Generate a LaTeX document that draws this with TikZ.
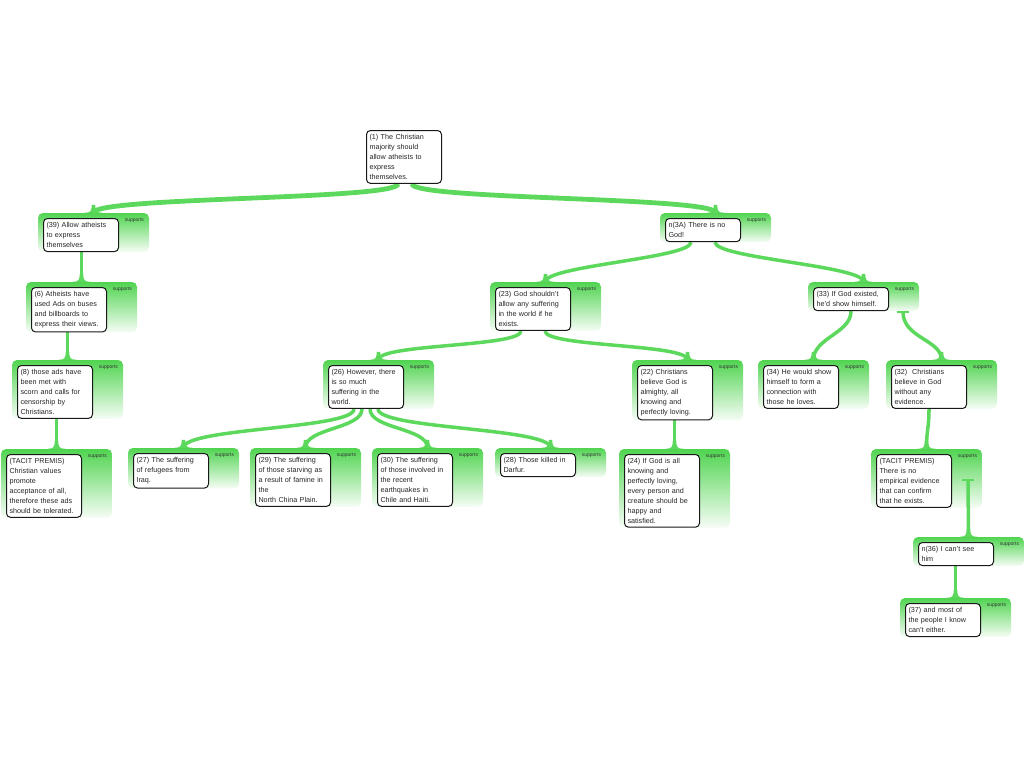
\documentclass[tikz,border=0pt]{standalone}
\usepackage{fontspec}
\setmainfont{Liberation Sans}
\usetikzlibrary{calc,fit,backgrounds}
\pgfdeclarelayer{links}
\pgfsetlayers{background,links,main}
\definecolor{pgreen}{RGB}{80,212,80}
\definecolor{lgreen}{RGB}{92,216,92}
\tikzset{
  argbox/.style={draw=black!90, line width=1pt, rounded corners=4pt, fill=white,
    text width=69pt, inner xsep=3pt, inner ysep=4pt, align=left, anchor=north west,
    font=\fontsize{7.2}{9.9}\selectfont, text=black!85},
  panel/.style={rounded corners=5pt, top color=pgreen, bottom color=pgreen!5, inner sep=0pt, draw=none},
  suplabel/.style={font=\fontsize{5}{6}\selectfont, anchor=north east, inner sep=0pt, text=black!80},
  link/.style={draw=lgreen, line width=3.5pt},
  biglink/.style={link, line width=4.8pt},
  tbar/.style={draw=lgreen, line width=2pt},
}
\newcommand{\claimbox}[4]{%
  \node[argbox] (#1) at (#2,#3) {#4};
  \begin{pgfonlayer}{background}
    \coordinate (#1-a) at ($(#1.north west)+(-5,-5)$);
    \coordinate (#1-b) at ($(#1.south east)+(30,0)$);
    \node[panel, fit=(#1-a)(#1-b)] (p#1) {};
    \node[suplabel] at ([xshift=-5pt,yshift=-5pt]p#1.north east) {supports};
  \end{pgfonlayer}%
}
\newcommand{\flare}[1]{%
  \fill[lgreen] ($(#1)+(-9,0)$) .. controls ($(#1)+(-2.5,0)$) and ($(#1)+(-2,-2)$) .. ($(#1)+(-1.7,-8)$)
    -- ($(#1)+(1.7,-8)$) .. controls ($(#1)+(2,-2)$) and ($(#1)+(2.5,0)$) .. ($(#1)+(9,0)$) -- cycle;}
\begin{document}
\begin{tikzpicture}[x=1pt,y=-1pt]
\useasboundingbox (0,0) rectangle (1024,768);

\node[argbox] (root) at (366,130) {(1) The Christian\\majority should\\allow atheists to\\express\\themselves.};

\claimbox{b39}{43}{218}{(39) Allow atheists\\to express\\themselves}
\claimbox{b3A}{665}{218}{n(3A) There is no\\God!}
\claimbox{b6}{31}{287}{(6) Atheists have\\used Ads on buses\\and billboards to\\express their views.}
\claimbox{b8}{17}{365}{(8) those ads have\\been met with\\scorn and calls for\\censorship by\\Christians.}
\claimbox{bTL}{6}{454}{(TACIT PREMIS)\\Christian values\\promote\\acceptance of all,\\therefore these ads\\should be tolerated.}
\claimbox{b23}{495}{287}{(23) God shouldn't\\allow any suffering\\in the world if he\\exists.}
\claimbox{b33}{813}{287}{(33) If God existed,\\he'd show himself.}
\claimbox{b26}{328}{365}{(26) However, there\\is so much\\suffering in the\\world.}
\claimbox{b22}{637}{365}{(22) Christians\\believe God is\\almighty, all\\knowing and\\perfectly loving.}
\claimbox{b27}{133}{453}{(27) The suffering\\of refugees from\\Iraq.}
\claimbox{b29}{255}{453}{(29) The suffering\\of those starving as\\a result of famine in\\the\\North China Plain.}
\claimbox{b30}{377}{453}{(30) The suffering\\of those involved in\\the recent\\earthquakes in\\Chile and Haiti.}
\claimbox{b28}{500}{453}{(28) Those killed in\\Darfur.}
\claimbox{b24}{624}{454}{(24) If God is all\\knowing and\\perfectly loving,\\every person and\\creature should be\\happy and\\satisfied.}
\claimbox{b34}{763}{365}{(34) He would show\\himself to form a\\connection with\\those he loves.}
\claimbox{b32}{891}{365}{(32)\ \ Christians\\believe in God\\without any\\evidence.}
\claimbox{bTR}{876}{454}{(TACIT PREMIS)\\There is no\\empirical evidence\\that can confirm\\that he exists.}
\claimbox{b36}{918}{542}{n(36) I can't see\\him}
\claimbox{b37}{905}{603}{(37) and most of\\the people I know\\can't either.}

\coordinate (t33) at (903,312);
\coordinate (tTR) at (968,480);

\begin{pgfonlayer}{links}
\draw[biglink] ([xshift=-6pt]root.south) .. controls +(0,16) and +(0,-16) .. (pb39.north);
\draw[biglink] ([xshift=8pt]root.south) .. controls +(0,16) and +(0,-16) .. (pb3A.north);
\flare{pb39.north}
\flare{pb3A.north}
\draw[link] (b39.south) -- (pb6.north|-b39.south) -- (pb6.north);
\flare{pb6.north}
\draw[link] (b6.south) -- (pb8.north|-b6.south) -- (pb8.north);
\flare{pb8.north}
\draw[link] (b8.south) -- (pbTL.north|-b8.south) -- (pbTL.north);
\flare{pbTL.north}
\draw[link] ([xshift=-12pt]b3A.south) .. controls +(0,16) and +(0,-16) .. (pb23.north);
\draw[link] ([xshift=12pt]b3A.south) .. controls +(0,16) and +(0,-16) .. (pb33.north);
\flare{pb23.north}
\flare{pb33.north}
\draw[link] ([xshift=-12pt]b23.south) .. controls +(0,16) and +(0,-16) .. (pb26.north);
\draw[link] ([xshift=12pt]b23.south) .. controls +(0,16) and +(0,-16) .. (pb22.north);
\flare{pb26.north}
\flare{pb22.north}
\draw[link] ([xshift=-12pt]b26.south) .. controls +(0,20) and +(0,-20) .. (pb27.north);
\draw[link] ([xshift=-4pt]b26.south) .. controls +(0,20) and +(0,-20) .. (pb29.north);
\draw[link] ([xshift=4pt]b26.south) .. controls +(0,20) and +(0,-20) .. (pb30.north);
\draw[link] ([xshift=12pt]b26.south) .. controls +(0,20) and +(0,-20) .. (pb28.north);
\flare{pb27.north}
\flare{pb29.north}
\flare{pb30.north}
\flare{pb28.north}
\draw[link] (b22.south) -- (pb24.north|-b22.south) -- (pb24.north);
\flare{pb24.north}
\draw[link] (b33.south) .. controls +(0,22) and +(0,-22) .. (pb34.north);
\flare{pb34.north}
\draw[tbar] ($(t33)+(-6,0)$) -- ($(t33)+(6,0)$);
\draw[link] (t33) .. controls +(0,26) and +(0,-20) .. (pb32.north);
\flare{pb32.north}
\draw[link] (b32.south) .. controls +(0,20) and +(0,-20) .. (pbTR.north);
\flare{pbTR.north}
\draw[tbar] ($(tTR)+(-6,0)$) -- ($(tTR)+(6,0)$);
\draw[link] (tTR) -- (pb36.north);
\flare{pb36.north}
\draw[link] (b36.south) -- (pb37.north|-b36.south) -- (pb37.north);
\flare{pb37.north}
\end{pgfonlayer}
\end{tikzpicture}
\end{document}
